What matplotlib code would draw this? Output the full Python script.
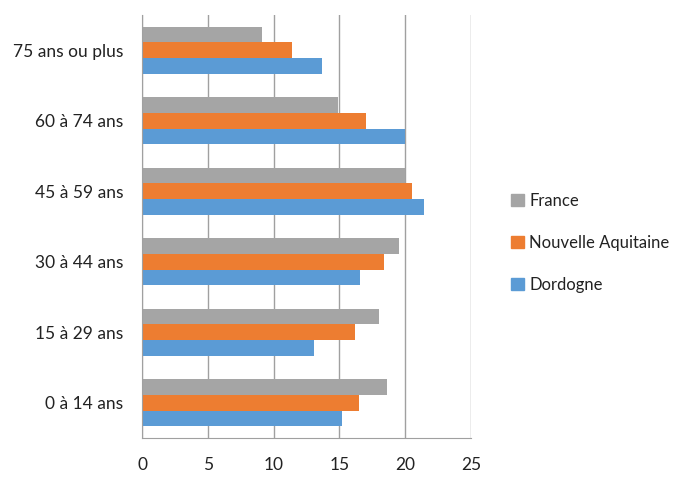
import matplotlib
matplotlib.use("Agg")
import matplotlib.pyplot as plt
import numpy as np
from matplotlib.patches import Patch

categories = ["0 à 14 ans", "15 à 29 ans", "30 à 44 ans", "45 à 59 ans", "60 à 74 ans", "75 ans ou plus"]
france = [18.6, 18.0, 19.5, 20.0, 14.9, 9.1]
nouvelle_aquitaine = [16.5, 16.2, 18.4, 20.5, 17.0, 11.4]
dordogne = [15.2, 13.1, 16.6, 21.4, 20.0, 13.7]
xticks = [0, 5, 10, 15, 20, 25]

plt.rcParams['font.family'] = ['Lato', 'DejaVu Sans']

fig = plt.figure(figsize=(6.84, 4.78), dpi=100)
ax = fig.add_axes([142/684, 1-438/478, (471-142)/684, (438-15)/478])

y = np.arange(len(categories))
h = 0.22
c_fr, c_na, c_do = '#A5A5A5', '#ED7D31', '#5B9BD5'
ax.barh(y + h, france, height=h, color=c_fr, zorder=3)
ax.barh(y, nouvelle_aquitaine, height=h, color=c_na, zorder=3)
ax.barh(y - h, dordogne, height=h, color=c_do, zorder=3)

ax.set_xlim(0, 25)
ax.set_ylim(-0.5, len(categories) - 0.5)
ax.set_xticks(xticks)
ax.set_xticklabels([str(v) for v in xticks])
ax.set_yticks(y)
ax.set_yticklabels(categories)
ax.tick_params(axis='both', length=0, labelsize=12.5, colors='#222222')
ax.tick_params(axis='y', pad=13.5)
ax.tick_params(axis='x', pad=14)
ax.grid(axis='x', color='#A0A0A0', linewidth=1, zorder=0)
for s in ['top', 'right']:
    ax.spines[s].set_visible(False)
ax.spines['left'].set_color('#A0A0A0')
ax.spines['bottom'].set_color('#A0A0A0')
ax.spines['left'].set_zorder(4)

handles = [Patch(color=c_fr, label='France'),
           Patch(color=c_na, label='Nouvelle Aquitaine'),
           Patch(color=c_do, label='Dordogne')]
fig.legend(handles=handles, loc='center left', bbox_to_anchor=(496/684, 1-243/478),
           frameon=False, fontsize=12, handlelength=0.75, handleheight=0.75,
           handletextpad=0.35, labelspacing=1.55, labelcolor='#222222')

fig.savefig('out.png', dpi=100)
